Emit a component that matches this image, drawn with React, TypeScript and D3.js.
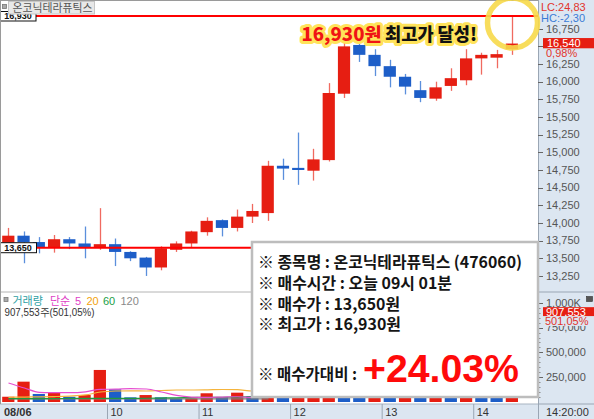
import React from 'react';
import * as d3 from 'd3';

// 60분봉 캔들 (온코닉테라퓨틱스)
const opens = [13700, 13820, 13730, 13660, 13770, 13710, 13650, 13700, 13590, 13510, 13370, 13620, 13710, 13870, 14040, 13930, 14090, 14140, 14810, 14780, 14740, 14890, 15830, 16520, 16380, 16220, 16070, 15880, 15760, 15940, 16020, 16330, 16340, 16460];
const closes = [13820, 13730, 13660, 13770, 13710, 13660, 13700, 13590, 13500, 13370, 13640, 13710, 13880, 14030, 13930, 14090, 14170, 14810, 14770, 14750, 14900, 15840, 16500, 16380, 16220, 16070, 15930, 15770, 15920, 16050, 16330, 16380, 16390, 16540];
const highs = [13930, 13880, 13800, 13830, 13800, 13950, 14210, 13780, 13600, 13520, 13670, 13740, 13890, 14080, 14050, 14190, 14270, 14880, 14910, 15280, 15050, 15980, 16590, 16560, 16460, 16310, 16110, 16010, 16000, 16190, 16460, 16410, 16450, 16930];
const lows = [13620, 13430, 13570, 13580, 13630, 13500, 13620, 13390, 13460, 13250, 13330, 13590, 13660, 13820, 13810, 13880, 14000, 14030, 14610, 14540, 14600, 14870, 15770, 16280, 16080, 15920, 15820, 15710, 15730, 15870, 15950, 16100, 16190, 16380];

const volumes = [53000, 205000, 81000, 94000, 53000, 70000, 323000, 128000, 47000, 70000, 47000, 33000, 35000, 88000, 47000, 94000, 60000, 150000, 90000, 120000, 170000, 620000, 480000, 260000, 300000, 200000, 230000, 150000, 190000, 160000, 280000, 240000, 181000, 907553];
const volumeDir = ['u', 'u', 'd', 'u', 'd', 'u', 'u', 'd', 'd', 'u', 'd', 'd', 'u', 'u', 'd', 'u', 'd', 'u', 'd', 'u', 'u', 'u', 'd', 'd', 'u', 'd', 'u', 'd', 'u', 'd', 'u', 'd', 'd', 'u'];

// 거래량 이동평균 (천주), 박스 뒤로 가려지는 구간 전까지
const ma5 = [192, 141, 98, 95, 94, 103, 128, 129, 134, 131, 101, 66, 50, 47, 50, 53, 47, 60];
const ma20 = [47, 50, 52, 55, 60, 71, 101, 111, 113, 111, 116, 121, 121, 123, 126, 124, 111, 115];
const ma60 = [35, 35, 35, 35, 36, 36, 36, 36, 37, 38, 40, 42, 45, 47, 48, 50, 52, 53];
const ma120 = [30, 30, 30, 30, 30, 30, 30, 30, 30, 30, 30, 31, 31, 31, 31, 31, 31, 31];

const dayLabels = ['08/06', '10', '11', '12', '13', '14'];
const dayStarts = [0, 7, 13, 19, 25, 31];

const priceTicks = [13250, 13500, 13750, 14000, 14250, 14500, 14750, 15000, 15250, 15500, 15750, 16000, 16250, 16500, 16750];
const hiddenPriceLabels = [16500]; // 현재가 라벨에 가려짐
const volTicks = [250000, 500000, 750000, 1000000];
const volTickLabels = ['250,000', '500,000', '750,000', '1,000K'];

const buyPrice = 13650;
const highPrice = 16930;
const lastPrice = 16540;

const infoLines = ['※ 종목명 : 온코닉테라퓨틱스 (476060)', '※ 매수시간 : 오늘 09시 01분', '※ 매수가 : 13,650원', '※ 최고가 : 16,930원'];

const RED = '#e61e12';
const BLUE = '#1d5ec8';
const PANEL = '#dce6f1';
const KR = '"Noto Sans CJK KR", "Noto Sans", sans-serif';
const NUM = '"Liberation Sans", Arial, sans-serif';

export default function App() {
  const W = 594, H = 419, R = 538;
  const x = d3.scaleBand<number>().domain(opens.map((_, i) => i)).range([0.67, 519.5]).paddingInner(0.2).paddingOuter(0.1);
  const bw = x.bandwidth();
  const cx = (i: number) => Math.round(x(i)! + bw / 2) + 0.5;
  const y = d3.scaleLinear().domain([buyPrice, highPrice]).range([247.7, 16]);
  const yv = d3.scaleLinear().domain([0, 1000000]).range([402, 302.8]);
  const fmt = d3.format(',');

  const maLine = d3.line<number>().x((_, i) => cx(i)).y(d => yv(d * 1000)).curve(d3.curveMonotoneX);
  const step = x.step();
  const sepX = (i: number) => x(i)! - (step - bw) / 2;

  const glow = { stroke: '#ffe35a', strokeWidth: 6, strokeLinejoin: 'round' as const, paintOrder: 'stroke' };

  return (
    <svg width={W} height={H} style={{ position: 'absolute', left: 0, top: 0 }} xmlns="http://www.w3.org/2000/svg">
      <rect x={0} y={0} width={W} height={H} fill="#fff" />

      {/* 가격 */}
      <g>
        {opens.map((o, i) => {
          const c = closes[i];
          const up = c >= o;
          const top = y(Math.max(o, c));
          const h = Math.max(2, Math.abs(y(o) - y(c)));
          return (
            <g key={i}>
              <line x1={cx(i)} x2={cx(i)} y1={y(highs[i])} y2={y(lows[i])} stroke={up ? '#f06a60' : '#5b8fdc'} strokeWidth={1.3} />
              <rect x={x(i)!} y={top} width={bw} height={h} fill={up ? RED : BLUE} />
            </g>
          );
        })}
      </g>

      <line x1={0} x2={R} y1={y(highPrice)} y2={y(highPrice)} stroke="#ff0000" strokeWidth={2} />
      <line x1={0} x2={R} y1={y(buyPrice)} y2={y(buyPrice)} stroke="#ff0000" strokeWidth={2} />
      <rect x={0.5} y={y(highPrice) - 4.5} width={35.5} height={9.5} fill="#fff" stroke="#111" strokeWidth={1} />
      <text x={18} y={y(highPrice) + 3.2} fontSize={9} fontWeight={700} fontFamily={NUM} textAnchor="middle" fill="#111">{fmt(highPrice)}</text>
      <rect x={0.5} y={y(buyPrice) - 5} width={36} height={10} fill="#fff" stroke="#111" strokeWidth={1} />
      <text x={18} y={y(buyPrice) + 3.3} fontSize={9} fontWeight={700} fontFamily={NUM} textAnchor="middle" fill="#111">{fmt(buyPrice)}</text>

      {/* 종목명 태그 */}
      <rect x={2.5} y={4.5} width={4} height={4} fill="#aaa" stroke="#777" strokeWidth={0.8} />
      <rect x={8.5} y={1.5} width={86} height={12.5} fill="#e8e8e8" stroke="#c6c6c6" />
      <text x={12.5} y={11.8} fontSize={11} fontFamily={KR} fill="#555" textLength={80} lengthAdjust="spacingAndGlyphs">온코닉테라퓨틱스</text>

      {/* 거래량 */}
      <line x1={0} x2={W} y1={292} y2={292} stroke="#b4b4b4" />
      {volumes.map((v, i) => (
        <rect key={i} x={x(i)!} y={yv(v)} width={bw} height={yv(0) - yv(v)} fill={volumeDir[i] === 'u' ? RED : BLUE} />
      ))}
      <path d={maLine(ma120)!} fill="none" stroke="#7a7a7a" strokeWidth={1.2} />
      <path d={maLine(ma60)!} fill="none" stroke="#1f9a3e" strokeWidth={1.2} />
      <path d={maLine(ma20)!} fill="none" stroke="#f5b43c" strokeWidth={1.2} />
      <path d={maLine(ma5)!} fill="none" stroke="#e64fd0" strokeWidth={1.2} />

      <rect x={4} y={297.5} width={4} height={4} fill="#aaa" stroke="#777" strokeWidth={0.8} />
      <text y={304.5} fontSize={11} fontFamily={KR}>
        <tspan x={12.5} fill="#2f9fa4">거래량</tspan>
        <tspan x={50} fill="#e03fc6">단순</tspan>
        <tspan x={75} fill="#e03fc6" fontFamily={NUM}>5</tspan>
        <tspan x={86.5} fill="#f2a20f" fontFamily={NUM}>20</tspan>
        <tspan x={103} fill="#22a046" fontFamily={NUM}>60</tspan>
        <tspan x={120.5} fill="#8a8a8a" fontFamily={NUM}>120</tspan>
      </text>
      <text x={4.5} y={315.5} fontSize={11} fontFamily={NUM} fill="#333" textLength={90} lengthAdjust="spacingAndGlyphs">907,553주(501,05%)</text>

      {/* 날짜 축 */}
      <rect x={0} y={404} width={W} height={H - 404} fill={PANEL} />
      <line x1={0} x2={W} y1={404} y2={404} stroke="#a8b4c2" />
      {dayStarts.map((s, k) => (
        <g key={k}>
          {k > 0 && <line x1={sepX(s)} x2={sepX(s)} y1={404} y2={H} stroke="#9aa6b4" />}
          <text x={k === 0 ? 4 : sepX(s) + 3} y={415.5} fontSize={11} fontFamily={NUM} fill="#333" fontWeight={k === 0 ? 700 : 400}>{dayLabels[k]}</text>
        </g>
      ))}

      {/* 오른쪽 축 */}
      <rect x={R} y={0} width={W - R} height={H} fill={PANEL} />
      <line x1={R + 0.5} x2={R + 0.5} y1={0} y2={H} stroke="#9aa6b4" />
      <line x1={R} x2={W} y1={292} y2={292} stroke="#9aa6b4" />
      <line x1={R} x2={W} y1={404} y2={404} stroke="#9aa6b4" />
      {priceTicks.map(t => (
        <g key={t}>
          <line x1={R} x2={R + 5} y1={Math.round(y(t)) + 0.5} y2={Math.round(y(t)) + 0.5} stroke="#666" />
          {!hiddenPriceLabels.includes(t) && (
            <text x={R + 8} y={y(t) + 3.8} fontSize={11} fontFamily={NUM} fill="#555">{fmt(t)}</text>
          )}
        </g>
      ))}
      {d3.range(50000, 1000001, 50000).map(t => (
        <line key={t} x1={R} x2={R + 2.5} y1={Math.round(yv(t)) + 0.5} y2={Math.round(yv(t)) + 0.5} stroke="#888" />
      ))}
      {volTicks.map((t, k) => (
        <g key={t}>
          <line x1={R} x2={R + 5} y1={Math.round(yv(t)) + 0.5} y2={Math.round(yv(t)) + 0.5} stroke="#666" />
          <text x={R + 8} y={yv(t) + 3.8} fontSize={11} fontFamily={NUM} fill="#555">{volTickLabels[k]}</text>
        </g>
      ))}
      <text x={R + 8} y={415.5} fontSize={11} fontFamily={NUM} fill="#333">14:20:00</text>

      <text x={541} y={11} fontSize={11} fontFamily={NUM} fill="#e2342c">LC:24,83</text>
      <text x={541} y={21.5} fontSize={11} fontFamily={NUM} fill="#3a7bd5">HC:-2,30</text>

      <rect x={543} y={y(lastPrice) - 5.5} width={51} height={10.5} fill={RED} />
      <text x={547} y={y(lastPrice) + 3.6} fontSize={11} fontFamily={NUM} fill="#fff">{fmt(lastPrice)}</text>
      <rect x={543} y={y(lastPrice) + 5} width={51} height={9} fill={PANEL} />
      <text x={546} y={y(lastPrice) + 13} fontSize={11} fontFamily={NUM} fill="#e2342c">0,98%</text>

      <rect x={543} y={yv(volumes[33]) - 4.8} width={51} height={9} fill={RED} />
      <text x={546} y={yv(volumes[33]) + 3.6} fontSize={11} fontFamily={NUM} fill="#fff">{fmt(volumes[33])}</text>
      <rect x={543} y={yv(volumes[33]) + 4.5} width={51} height={9.5} fill={PANEL} />
      <text x={545} y={yv(volumes[33]) + 13} fontSize={11} fontFamily={NUM} fill="#e2342c">501,05%</text>
      <rect x={586.5} y={296.5} width={6} height={5} fill="#555" stroke="#333" strokeWidth={0.6} />

      {/* 테두리 */}
      <line x1={0.5} x2={0.5} y1={0} y2={404} stroke="#9a9a9a" />
      <line x1={0} x2={R} y1={0.5} y2={0.5} stroke="#9a9a9a" />

      {/* 안내 박스 */}
      <rect x={252} y={242} width={286} height={155} fill="#fff" stroke="#bdbdbd" strokeWidth={2.5} />
      {infoLines.map((t, k) => (
        <text key={k} x={258} y={[268, 288.5, 309.5, 330][k]} fontSize={16} fontWeight={700} fontFamily={KR} fill="#151515"
          textLength={[264, 194, 142, 143][k]} lengthAdjust="spacingAndGlyphs">{t}</text>
      ))}
      <text x={258} y={380} fontSize={16} fontWeight={700} fontFamily={KR} fill="#151515" textLength={99} lengthAdjust="spacingAndGlyphs">※ 매수가대비 :</text>
      <text x={363} y={381.5} fontSize={39} fontWeight={700} fontFamily={NUM} fill="#ff0a0a" textLength={156} lengthAdjust="spacingAndGlyphs">+24.03%</text>

      {/* 최고가 강조 */}
      <text x={301.5} y={40.5} fontSize={18} fontWeight={900} fontFamily={KR} fill="#f01414" textLength={80} lengthAdjust="spacingAndGlyphs" {...glow}>16,930원</text>
      <text x={385} y={40.5} fontSize={18} fontWeight={900} fontFamily={KR} fill="#111" textLength={92} lengthAdjust="spacingAndGlyphs" {...glow}>최고가 달성!</text>
      <circle cx={cx(33)} cy={23} r={25} fill="none" stroke="#f7d94a" strokeWidth={5.5} opacity={0.9} />
    </svg>
  );
}
